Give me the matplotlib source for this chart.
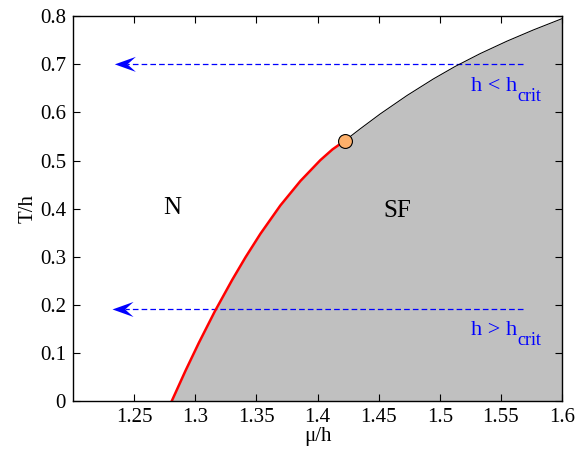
import numpy as np
import matplotlib
matplotlib.use("Agg")
import matplotlib.pyplot as plt
from matplotlib.patches import Polygon

plt.rcParams["font.family"] = ["Liberation Serif", "DejaVu Serif"]

# phase boundary, second-order part (red)
mu_red = [1.2806, 1.2920, 1.3029, 1.3160, 1.3302, 1.3411, 1.3533, 1.3696,
          1.3860, 1.4023, 1.4122, 1.4222]
T_red = [0.000, 0.0638, 0.1216, 0.1871, 0.2524, 0.2993, 0.3481, 0.4068,
         0.4576, 0.5008, 0.5231, 0.541]

# phase boundary, first-order part (black)
mu_blk = [1.4222, 1.4350, 1.4513, 1.4732, 1.4949, 1.5126, 1.5331, 1.5549, 1.5766, 1.6000]
T_blk = [0.541, 0.5660, 0.5968, 0.6350, 0.6696, 0.6953, 0.7220, 0.7477, 0.7711, 0.7945]

# tricritical point
mu_tc, T_tc = 1.4222, 0.541

# field sweeps
arrow_start = [1.568, 1.568]
arrow_end = [1.2342, 1.2323]
arrow_T = [0.6996, 0.191]
arrow_main = ["h < h", "h > h"]
arrow_sub = ["crit", "crit"]
label_T = [0.645, 0.139]

fig = plt.figure(figsize=(5.86, 4.49), dpi=100)
ax = fig.add_axes([0.1246, 0.1058, 0.8345, 0.8586])

mu_all = np.array(mu_red + mu_blk[1:])
T_all = np.array(T_red + T_blk[1:])
ax.fill_between(mu_all, 0, T_all, color="#c0c0c0", lw=0, zorder=1)
ax.plot(mu_red, T_red, color="red", lw=1.8, zorder=3, solid_capstyle="butt")
ax.plot(mu_blk, T_blk, color="black", lw=0.75, zorder=3)
ax.plot(mu_tc, T_tc, "o", ms=10, mfc="#fdb06b", mec="black", mew=0.8, zorder=4)

L, h = 0.0172, 0.0156
for x0, x1, T, main, sub, yl in zip(arrow_start, arrow_end, arrow_T,
                                     arrow_main, arrow_sub, label_T):
    ax.plot([x0, x1 + 0.6 * L], [T, T], color="blue", lw=0.9,
            ls=(0, (4.5, 2.5)), zorder=2)
    head = Polygon([[x1, T], [x1 + L, T + h], [x1 + 0.6 * L, T], [x1 + L, T - h]],
                   closed=True, color="blue", lw=0, zorder=5)
    ax.add_patch(head)
    ax.text(1.5632, yl, main, color="blue", fontsize=16, ha="right", va="baseline")
    ax.text(1.5632, yl - 0.022, sub, color="blue", fontsize=13, ha="left", va="baseline")

ax.text(1.2809, 0.4015, "N", fontsize=18, ha="center", va="center")
ax.text(1.465, 0.395, "SF", fontsize=18, ha="center", va="center")

ax.set_xlim(1.2, 1.6)
ax.set_ylim(0, 0.8)
ax.set_xticks([1.25, 1.3, 1.35, 1.4, 1.45, 1.5, 1.55, 1.6])
ax.set_xticklabels(["1.25", "1.3", "1.35", "1.4", "1.45", "1.5", "1.55", "1.6"])
ax.set_yticks(np.arange(0, 0.81, 0.1))
ax.set_yticklabels(["0", "0.1", "0.2", "0.3", "0.4", "0.5", "0.6", "0.7", "0.8"])
ax.tick_params(direction="in", top=True, right=True, labelsize=15, length=5,
               width=0.8, pad=5)
for s in ax.spines.values():
    s.set_linewidth(1.0)
    s.set_zorder(6)
ax.set_xlabel("μ/h", fontsize=15, labelpad=0)
ax.set_ylabel("T/h", fontsize=15, labelpad=2)

fig.savefig("out.png", dpi=100)
